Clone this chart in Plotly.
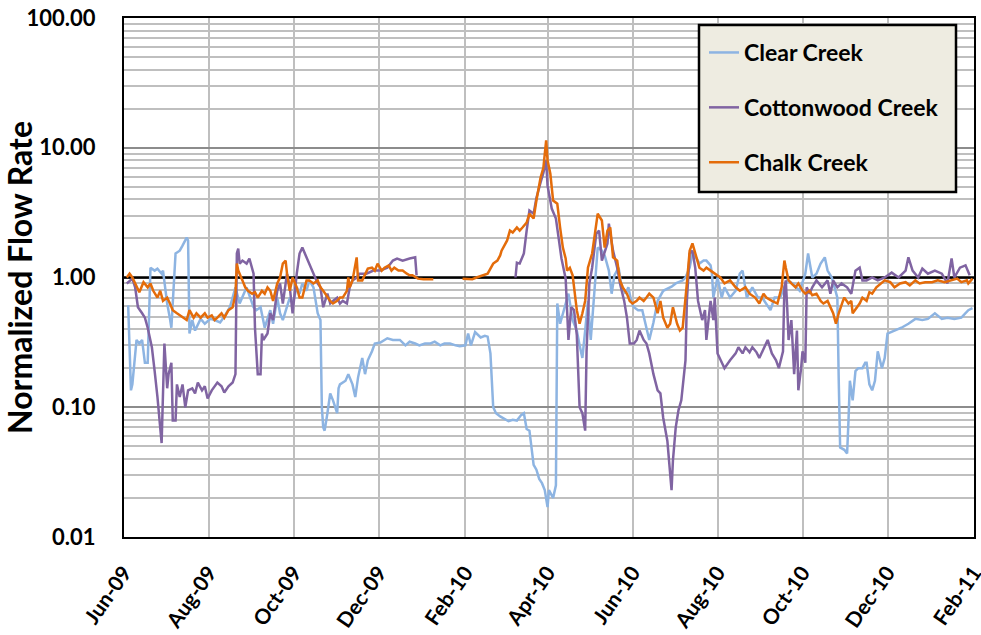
import pandas as pd
import plotly.graph_objects as go

START = "2009-06-01"

# ---- Clear Creek (days since 2009-06-01, normalized flow) ----
clear_day = [3, 5, 6, 9, 11, 13, 15, 17, 19, 22, 24, 27, 28, 31, 33, 34, 37, 40, 42, 45, 46, 47, 49, 51, 55, 58,
             62, 65, 69, 72, 76, 80, 83, 88, 93, 95, 98, 101, 105, 107, 110, 112, 114, 119, 121, 124, 126, 128, 131,
             133, 136, 139, 141, 142, 143, 144, 146, 148, 150, 153, 154, 155, 159, 161, 164, 166, 168, 171, 173, 175,
             178, 180, 184, 189, 193, 198, 202, 205, 209, 212, 216, 220, 223, 227, 230, 234, 238, 241, 245, 247, 249,
             252, 256, 259, 261, 263, 265, 267, 270, 272, 276, 279, 282, 285, 287, 289, 291, 294, 296, 298, 300, 302,
             304, 305, 308, 310, 311, 313, 315, 319, 322, 325, 327, 329, 331, 333, 335, 338, 340, 343, 345, 348, 350,
             352, 355, 357, 360, 362, 364, 366, 369, 372, 374, 377, 380, 383, 387, 390, 393, 396, 401, 403, 406, 408,
             411, 413, 416, 418, 421, 422, 423, 426, 429, 431, 435, 439, 442, 444, 447, 451, 455, 458, 461, 464, 467,
             471, 474, 476, 480, 485, 489, 491, 494, 497, 500, 503, 505, 508, 510, 512, 513, 514, 517, 519, 520, 521,
             523, 525, 527, 530, 532, 533, 535, 537, 539, 541, 544, 546, 548, 553, 558, 563, 568, 573, 577, 582, 587,
             591, 596, 601, 606, 609]
clear_val = [0.61, 0.135, 0.15, 0.33, 0.31, 0.33, 0.22, 0.22, 1.19, 1.13, 1.17, 1.07, 1.13, 0.63, 0.48, 0.41, 1.53,
             1.61, 1.76, 2.03, 1.93, 0.37, 0.47, 0.39, 0.48, 0.44, 0.48, 0.47, 0.45, 0.50, 0.59, 0.84, 0.63, 0.84,
             0.59, 0.56, 0.59, 0.41, 0.56, 0.44, 0.70, 0.53, 0.47, 0.70, 0.63, 0.84, 0.75, 0.90, 0.79, 0.95, 0.84,
             0.53, 0.47, 0.10, 0.070, 0.066, 0.090, 0.128, 0.113, 0.090, 0.14, 0.15, 0.16, 0.18, 0.15, 0.12, 0.17,
             0.24, 0.18, 0.23, 0.27, 0.31, 0.315, 0.34, 0.33, 0.33, 0.30, 0.32, 0.31, 0.30, 0.31, 0.31, 0.32, 0.30,
             0.31, 0.31, 0.30, 0.295, 0.30, 0.37, 0.30, 0.38, 0.345, 0.355, 0.35, 0.26, 0.10, 0.090, 0.085, 0.083,
             0.078, 0.080, 0.079, 0.087, 0.090, 0.068, 0.066, 0.036, 0.033, 0.028, 0.026, 0.023, 0.017, 0.023, 0.020,
             0.025, 0.63, 0.44, 0.53, 0.75, 0.47, 0.39, 0.30, 0.24, 0.39, 0.66, 0.33, 0.90, 1.70, 1.61, 1.48, 1.13,
             0.75, 1.04, 1.19, 0.87, 0.75, 0.84, 0.66, 0.59, 0.56, 0.56, 0.45, 0.33, 0.45, 0.66, 0.79, 0.82, 0.85,
             0.90, 0.95, 1.0, 1.19, 1.53, 1.40, 1.28, 1.35, 1.35, 1.24, 1.07, 0.70, 1.0, 0.70, 0.84, 0.70, 0.79,
             1.07, 1.13, 0.70, 0.84, 0.70, 0.70, 0.63, 0.56, 0.70, 0.70, 0.84, 0.95, 0.90, 0.79, 1.07, 1.53, 1.0,
             1.07, 1.28, 1.43, 1.13, 1.0, 0.84, 0.70, 0.16, 0.049, 0.047, 0.044, 0.079, 0.16, 0.113, 0.19, 0.20,
             0.20, 0.22, 0.22, 0.15, 0.135, 0.16, 0.27, 0.20, 0.24, 0.37, 0.39, 0.41, 0.44, 0.48, 0.47, 0.48, 0.53,
             0.48, 0.49, 0.48, 0.49, 0.56, 0.58]

# ---- Cottonwood Creek (None = missing record) ----
cotton_day = [2, 6, 8, 10, 13, 15, 17, 20, 22, 24, 27, 29, 31, 32, 34, 35, 37, 38, 40, 42, 44, 46, 49, 51, 53, 56,
              58, 60, 63, 65, 67, 70, 72, 75, 78, 80, 81, 82, 83, 85, 88, 90, 93, 94, 96, 98, 99, 100, 103, 105, 107,
              110, 112, 114, 117, 119, 121, 124, 126, 128, 131, 133, 136, 139, 141, 143, 146, 148, 150, 153, 155, 157,
              160, 162, 164, 167, 169, 174, 179, 184, 189, 193, 196, 200, 205, 209, 210, 245, 281, 282, 284, 287, 289,
              291, 294, 296, 299, 301, 303, 304, 307, 310, 312, 314, 317, 318, 319, 321, 323, 325, 327, 329, 331, 332,
              334, 336, 339, 341, 343, 347, 348, 351, 354, 356, 359, 361, 363, 366, 368, 370, 373, 375, 377, 380, 383,
              385, 387, 390, 391, 393, 394, 396, 398, 400, 403, 404, 406, 408, 410, 412, 415, 417, 418, 421, 423, 424,
              426, 429, 431, 435, 439, 441, 444, 446, 449, 451, 454, 456, 461, 462, 465, 468, 470, 473, 474, 475, 476,
              477, 479, 481, 483, 484, 486, 487, 489, 490, 492, 494, 497, 501, 505, 507, 509, 512, 515, 519, 522, 525,
              528, 530, 533, 537, 541, 546, 551, 556, 561, 563, 566, 570, 573, 577, 582, 587, 591, 594, 596, 600, 604,
              607]
cotton_val = [0.90, 0.98, 0.84, 0.59, 0.53, 0.49, 0.41, 0.29, 0.19, 0.12, 0.053, 0.31, 0.14, 0.18, 0.22, 0.079, 0.079,
              0.15, 0.12, 0.15, 0.10, 0.135, 0.14, 0.128, 0.155, 0.135, 0.145, 0.117, 0.135, 0.145, 0.155, 0.145,
              0.13, 0.145, 0.155, 0.18, 1.53, 1.67, 1.28, 1.35, 1.28, 1.40, 1.07, 0.41, 0.18, 0.18, 0.37, 0.33, 0.37,
              0.53, 0.47, 0.79, 0.90, 0.63, 1.07, 0.84, 0.53, 1.07, 1.53, 1.70, 1.43, 1.28, 1.07, 0.90, 0.84, 0.59,
              0.75, 0.63, 0.66, 0.70, 0.63, 0.66, 0.63, 0.84, 0.95, 1.0, 1.07, 1.07, 1.13, 1.13, 1.19, 1.35, 1.40,
              1.35, 1.40, 1.43, 1.04, None, 1.0, 1.30, 1.28, 1.53, 2.30, 3.28, 3.1, 4.1, 5.4, 6.4, 8.0, 5.1, 3.4,
              2.85, 2.0, 1.40, 0.98, 0.47, 0.33, 0.59, 0.56, 0.36, 0.10, 0.09, 0.066, 0.27, 0.90, 1.19, 2.18, 2.30,
              1.35, 1.83, 2.60, 1.61, 1.19, 0.90, 0.66, 0.49, 0.31, 0.31, 0.33, 0.39, 0.33, 0.31, 0.26, 0.18, 0.135,
              0.128, 0.083, 0.055, 0.041, 0.023, 0.039, 0.07, 0.095, 0.113, 0.23, 0.66, 1.53, 1.61, 1.19, 0.66, 0.47,
              0.56, 0.33, 0.66, 0.47, 0.70, 0.26, 0.22, 0.20, 0.23, 0.26, 0.29, 0.26, 0.29, 0.265, 0.29, 0.265, 0.24,
              0.31, 0.33, 0.26, 0.23, 0.20, 0.27, 0.84, 0.95, 0.59, 0.33, 0.47, 0.18, 0.39, 0.135, 0.20, 0.27, 0.22,
              0.84, 0.75, 0.84, 0.95, 0.84, 0.95, 0.75, 0.95, 0.84, 0.90, 0.84, 0.75, 1.13, 1.19, 0.95, 0.95, 1.0,
              0.95, 1.0, 1.09, 1.0, 1.13, 1.43, 1.13, 1.0, 1.17, 1.07, 1.13, 1.07, 0.90, 1.40, 1.0, 1.19, 1.24, 1.04]

# ---- Chalk Creek (None = missing record) ----
chalk_day = [2, 4, 6, 9, 11, 14, 17, 19, 21, 24, 26, 28, 31, 33, 35, 38, 40, 42, 45, 47, 50, 52, 55, 58, 60, 63, 65,
             67, 70, 72, 75, 78, 80, 81, 82, 85, 87, 89, 92, 94, 96, 99, 101, 103, 105, 107, 110, 112, 114, 116, 117,
             119, 121, 124, 126, 128, 131, 133, 136, 139, 141, 143, 146, 148, 150, 153, 155, 157, 160, 161, 162, 164,
             167, 168, 171, 173, 175, 178, 180, 182, 185, 187, 190, 192, 194, 197, 200, 203, 205, 207, 211, 215, 218,
             222, 232, 243, 246, 250, 253, 258, 261, 263, 265, 268, 270, 271, 273, 275, 277, 279, 282, 284, 286, 289,
             291, 294, 296, 299, 301, 302, 303, 304, 306, 308, 311, 313, 315, 317, 318, 320, 322, 325, 327, 329, 331,
             333, 336, 338, 340, 343, 345, 347, 349, 351, 354, 356, 358, 361, 363, 365, 368, 370, 373, 375, 377, 380,
             383, 385, 387, 390, 392, 394, 397, 399, 401, 404, 406, 408, 410, 413, 416, 418, 421, 424, 428, 431, 435,
             439, 442, 446, 449, 453, 456, 459, 461, 465, 469, 472, 474, 475, 477, 479, 482, 484, 487, 489, 492, 494,
             497, 500, 502, 505, 507, 509, 511, 513, 516, 517, 520, 522, 523, 526, 528, 530, 533, 535, 537, 540, 543,
             546, 550, 553, 557, 561, 564, 568, 571, 575, 580, 584, 589, 594, 598, 601, 605, 606, 609]
chalk_val = [1.0, 1.07, 1.0, 0.84, 0.77, 0.92, 0.84, 0.90, 0.79, 0.70, 0.79, 0.66, 0.70, 0.63, 0.56, 0.53, 0.51, 0.49,
             0.47, 0.56, 0.49, 0.53, 0.49, 0.53, 0.49, 0.51, 0.47, 0.49, 0.53, 0.49, 0.56, 0.59, 0.75, 1.28, 1.13,
             0.95, 0.84, 0.79, 0.75, 0.77, 0.70, 0.79, 0.75, 0.84, 0.79, 0.66, 0.90, 1.0, 1.28, 1.35, 1.07, 0.79,
             1.0, 0.84, 0.70, 0.70, 0.95, 0.95, 0.90, 0.95, 0.84, 0.79, 0.70, 0.66, 0.63, 0.66, 0.70, 0.70, 0.79,
             1.0, 0.84, 0.95, 1.43, 0.95, 0.95, 1.07, 1.17, 1.19, 1.13, 1.28, 1.13, 1.19, 1.24, 1.13, 1.19, 1.13,
             1.13, 1.07, 1.04, 1.04, 0.98, 0.97, 0.97, 0.97, None, 0.98, 0.98, 0.97, 1.0, 1.04, 1.07, 1.17, 1.28,
             1.35, 1.48, 1.61, 1.76, 1.93, 2.30, 2.22, 2.43, 2.30, 2.43, 2.65, 3.1, 2.85, 3.92, 5.9, 7.0, 9.5, 11.4,
             8.0, 6.3, 3.92, 3.7, 2.43, 1.70, 1.40, 1.13, 1.19, 1.04, 0.56, 0.44, 0.53, 0.66, 1.19, 1.53, 2.18, 3.1,
             2.75, 1.70, 2.30, 2.43, 1.43, 1.35, 0.95, 0.84, 0.75, 0.66, 0.63, 0.66, 0.70, 0.66, 0.70, 0.75, 0.70,
             0.53, 0.66, 0.49, 0.41, 0.44, 0.59, 0.44, 0.39, 0.41, 0.90, 1.61, 1.83, 1.53, 1.19, 1.13, 1.19, 1.13,
             1.07, 1.0, 0.90, 0.95, 0.84, 0.79, 0.84, 0.75, 0.70, 0.63, 0.75, 0.70, 0.66, 0.63, 0.84, 1.35, 1.19,
             0.95, 0.90, 0.84, 0.90, 0.79, 0.75, 0.79, 0.73, 0.75, 0.66, 0.63, 0.66, 0.59, 0.53, 0.44, 0.53, 0.66,
             0.70, 0.63, 0.66, 0.53, 0.59, 0.63, 0.70, 0.66, 0.77, 0.75, 0.84, 0.90, 0.95, 0.92, 0.84, 0.90, 0.92,
             0.87, 0.95, 0.90, 0.92, 0.92, 0.95, 0.92, 0.95, 0.98, 0.92, 0.95, 0.90, 0.98]

series = [
    ("Clear Creek", clear_day, clear_val, "#8DB4E2"),
    ("Cottonwood Creek", cotton_day, cotton_val, "#8064A2"),
    ("Chalk Creek", chalk_day, chalk_val, "#E46C0A"),
]

y_tickvals = [0.01, 0.1, 1, 10, 100]
y_ticktext = ["0.01", "0.10", "1.00", "10.00", "100.00"]
x_range = ["2009-06-01", "2011-02-01 02:00"]
x_tickvals = ["2009-06-01", "2009-08-01", "2009-10-01", "2009-12-01", "2010-02-01", "2010-04-01",
              "2010-06-01", "2010-08-01", "2010-10-01", "2010-12-01", "2011-02-01"]
x_ticktext = ["Jun-09", "Aug-09", "Oct-09", "Dec-09", "Feb-10", "Apr-10",
              "Jun-10", "Aug-10", "Oct-10", "Dec-10", "Feb-11"]

FONT = "Lato"
start = pd.Timestamp(START)

fig = go.Figure()

# reference line at 1.0 (horizontal axis crossing)
fig.add_trace(go.Scatter(x=x_range, y=[1, 1], mode="lines", line=dict(color="black", width=2.5),
                         showlegend=False, hoverinfo="skip"))

for i, (name, days, vals, color) in enumerate(series):
    dates = [start + pd.Timedelta(days=d) for d in days]
    fig.add_trace(go.Scatter(x=dates, y=vals, mode="lines", name=name, legendgroup=name,
                             line=dict(color=color, width=2.5), connectgaps=False))

minor_vals = [m * 10 ** e for e in range(-2, 2) for m in range(2, 10)]

fig.update_layout(
    width=981, height=635,
    margin=dict(l=124, r=7, t=18, b=98),
    paper_bgcolor="white", plot_bgcolor="white",
    font=dict(family=FONT, color="black"),
    showlegend=True,
    legend=dict(x=(704 - 124) / 850, y=(537 - 31) / 519, xanchor="left", yanchor="top",
                bgcolor="rgba(0,0,0,0)", borderwidth=0, tracegroupgap=22,
                font=dict(family=FONT, size=23, weight="bold", color="black")),
    xaxis=dict(type="date", range=x_range, tickmode="array", tickvals=x_tickvals, ticktext=x_ticktext,
               tickangle=-55, tickfont=dict(family=FONT, size=21, weight="bold"),
               showgrid=True, gridcolor="#BFBFBF", gridwidth=1.5,
               showline=True, linecolor="black", linewidth=2, mirror=True,
               ticks="", ticklabelstandoff=13, automargin=False, ticklabeloverflow="allow"),
    yaxis=dict(type="log", range=[-2, 2], tickmode="array", tickvals=y_tickvals, ticktext=y_ticktext,
               tickfont=dict(family=FONT, size=22, weight="bold"),
               showgrid=True, gridcolor="#8C8C8C", gridwidth=1.5,
               minor=dict(tickmode="array", tickvals=minor_vals, showgrid=True, gridcolor="#BFBFBF", gridwidth=1.5),
               showline=True, linecolor="black", linewidth=2, mirror=True,
               ticks="", ticklabelstandoff=22, automargin=False,
               title=dict(text="Normalized Flow Rate", standoff=2,
                          font=dict(family=FONT, size=32, weight="bold"))),
    shapes=[dict(type="rect", xref="paper", yref="paper",
                 x0=(699 - 124) / 850, x1=(956 - 124) / 850,
                 y0=(537 - 192) / 519, y1=(537 - 25) / 519,
                 fillcolor="#EEECE1", line=dict(color="black", width=2.5), layer="above")],
)

fig.write_html("out.html", config={"displayModeBar": False},
               post_script="document.body.style.margin='0px';document.body.style.padding='0px';")
